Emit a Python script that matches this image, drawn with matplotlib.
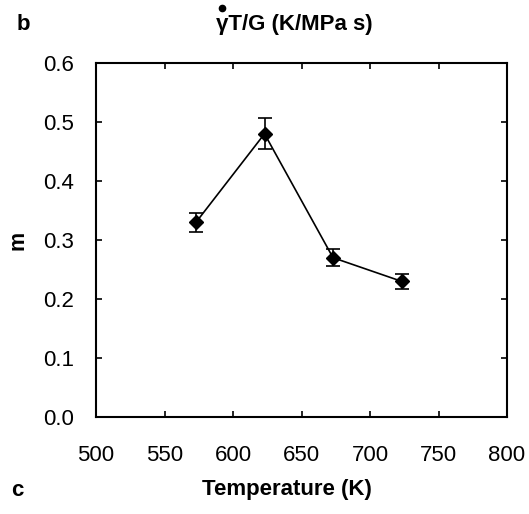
import matplotlib
matplotlib.use("Agg")
import matplotlib.pyplot as plt
from matplotlib.lines import Line2D

plt.rcParams['font.family'] = ['Liberation Sans', 'DejaVu Sans']

temperature = [573, 623, 673, 723]
m_values = [0.33, 0.48, 0.27, 0.23]
m_errors = [0.016, 0.026, 0.014, 0.013]
x_ticks = [500, 550, 600, 650, 700, 750, 800]
y_ticks = [0.0, 0.1, 0.2, 0.3, 0.4, 0.5, 0.6]

W, H = 529, 514
fig = plt.figure(figsize=(W/100, H/100), dpi=100)
ax = fig.add_axes([96/W, 1-417/H, (507-96)/W, (417-63)/H])

ax.errorbar(temperature, m_values, yerr=m_errors, color='black', marker='D',
            markersize=7.5, linewidth=1.2, capsize=5, capthick=1.2, elinewidth=1.2)

ax.set_xlim(500, 800)
ax.set_ylim(0.0, 0.6)
ax.set_xticks(x_ticks)
ax.set_yticks(y_ticks)
ax.set_xticklabels([str(v) for v in x_ticks])
ax.set_yticklabels([f"{v:.1f}" for v in y_ticks])
ax.tick_params(direction='in', length=4.5, width=1.2, top=True, right=True,
               labelsize=16)
ax.tick_params(axis='x', pad=20)
ax.tick_params(axis='y', pad=16)
for s in ax.spines.values():
    s.set_linewidth(1.5)

fig.text(18/W, 1-240/H, 'm', fontsize=15.5, fontweight='bold', rotation=90,
         ha='center', va='center')
fig.text(287/W, 1-490/H, 'Temperature (K)', fontsize=16, fontweight='bold',
         ha='center', va='center')
title = fig.text(294/W, 1-24/H, 'γT/G (K/MPa s)', fontsize=16, fontweight='bold',
                 ha='center', va='center')
fig.text(23/W, 1-24/H, 'b', fontsize=16, fontweight='bold', ha='center', va='center')
fig.text(17/W, 1-491/H, 'c', fontsize=16, fontweight='bold', ha='center', va='center')

# dot above gamma (drawn as a marker)
fig.canvas.draw()
r = fig.canvas.get_renderer()
bb = title.get_window_extent(r)
tmp = fig.text(0, 0, 'γ', fontsize=16, fontweight='bold')
gw = tmp.get_window_extent(r).width
tmp.remove()
gx = (bb.x0 + gw/2 + 0.5)/W
fig.add_artist(Line2D([gx], [1-7.5/H], marker='o', markersize=4.5, color='black',
                      linestyle='none', transform=fig.transFigure))

fig.savefig('out.png', dpi=100)
